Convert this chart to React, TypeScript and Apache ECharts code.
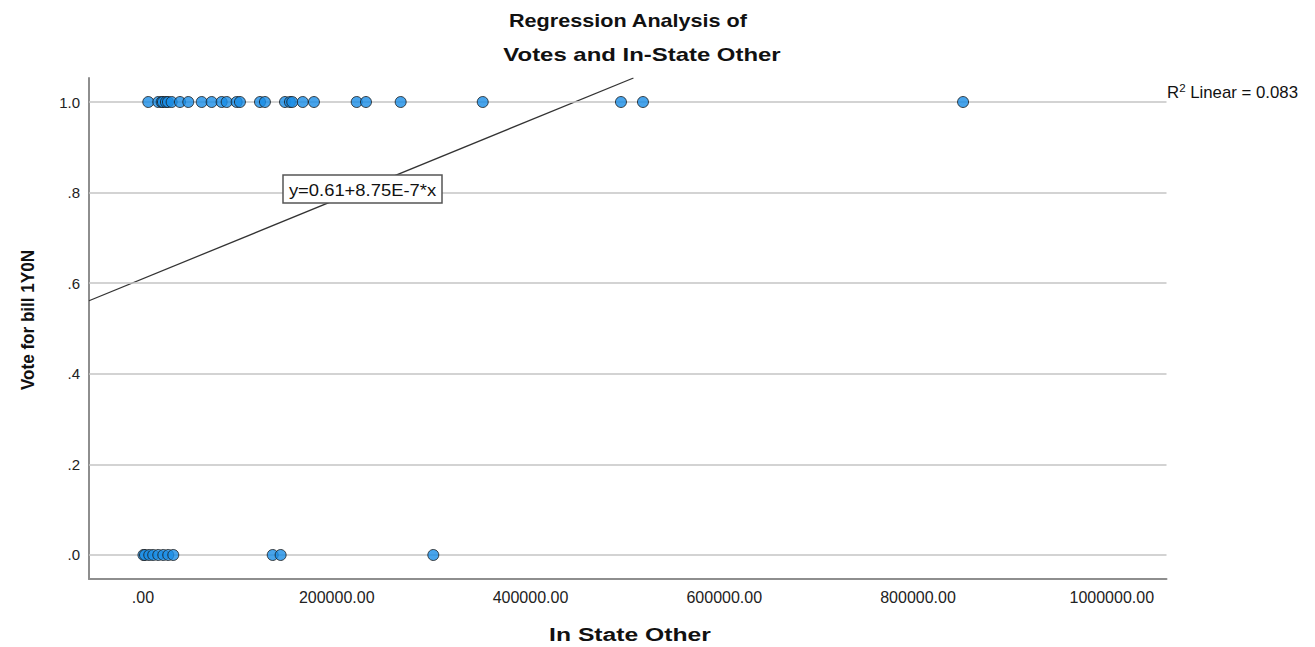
import React, { useEffect, useRef } from "react";
import * as echarts from "echarts";

// Vote = 1 (yes)
const yesInStateOther = [
  5500, 15800, 19300, 20600, 23700, 25800, 29600, 38200, 46800, 60600, 70900,
  81200, 86400, 96700, 100100, 120800, 125900, 146600, 151700, 154100, 164900,
  176500, 220600, 230200, 266000, 350700, 493400, 516100, 846500,
];
// Vote = 0 (no)
const noInStateOther = [
  500, 2100, 6500, 10600, 15800, 21000, 26100, 31300, 133900, 142100, 299700,
];
const intercept = 0.61;
const slope = 8.75e-7;
const xTicks = [0, 200000, 400000, 600000, 800000, 1000000];
const yTicks = [0, 0.2, 0.4, 0.6, 0.8, 1.0];
const X_MIN = -55700;
const X_MAX = 1056500;
const Y_MIN = -0.053;
const Y_MAX = 1.053;

export default function App() {
  const ref = useRef<HTMLDivElement>(null);
  useEffect(() => {
    if (!ref.current) return;
    const chart = echarts.init(ref.current, undefined, { renderer: "svg" });
    const font = "'Liberation Sans', Arial, sans-serif";
    const lineEndX = (Y_MAX - intercept) / slope;
    const lineData = [
      [X_MIN, intercept + slope * X_MIN],
      [lineEndX, intercept + slope * lineEndX],
    ];
    const markerStyle = { color: "#1A8DE6", borderColor: "#1a1a1a", borderWidth: 1 };
    const centered = (extra: any) => ({
      textAlign: "center",
      textVerticalAlign: "middle",
      align: "center",
      verticalAlign: "middle",
      ...extra,
    });
    chart.setOption({
      animation: false,
      backgroundColor: "#ffffff",
      grid: { left: 89, right: 148.5, top: 78, bottom: 68 },
      xAxis: {
        type: "value",
        min: X_MIN,
        max: X_MAX,
        axisLine: { show: true, onZero: false, lineStyle: { color: "#8e8e8e", width: 2 } },
        axisTick: { show: false, customValues: xTicks },
        axisLabel: {
          customValues: xTicks,
          formatter: (v: number) => v.toFixed(2).replace(/^0\./, "."),
          fontFamily: font,
          fontSize: 16,
          color: "#222",
          margin: 10,
        },
        splitLine: { show: false },
      },
      yAxis: {
        type: "value",
        min: Y_MIN,
        max: Y_MAX,
        axisLine: { show: true, onZero: false, lineStyle: { color: "#8e8e8e", width: 2 } },
        axisTick: { show: false, customValues: yTicks },
        axisLabel: {
          customValues: yTicks,
          formatter: (v: number) => v.toFixed(1).replace(/^0\./, "."),
          fontFamily: font,
          fontSize: 15,
          color: "#222",
          margin: 9,
        },
        splitLine: { show: false },
      },
      series: [
        {
          type: "line",
          data: [],
          silent: true,
          markLine: {
            silent: true,
            symbol: "none",
            label: { show: false },
            lineStyle: { color: "#c4c4c4", type: "solid", width: 1.5 },
            data: yTicks.map((v) => ({ yAxis: v })),
          },
        },
        {
          type: "line",
          data: lineData,
          showSymbol: false,
          symbol: "none",
          lineStyle: { color: "#333", width: 1.3 },
          z: 3,
        },
        {
          type: "scatter",
          data: noInStateOther.map((x) => [x, 0]),
          symbolSize: 11,
          itemStyle: markerStyle,
          z: 5,
        },
        {
          type: "scatter",
          data: yesInStateOther.map((x) => [x, 1]),
          symbolSize: 11,
          itemStyle: markerStyle,
          z: 5,
        },
      ],
      graphic: [
        {
          type: "text",
          x: 628,
          y: 21,
          scaleX: 1.2,
          style: centered({ text: "Regression Analysis of", font: `bold 18px ${font}`, fill: "#111" }),
        },
        {
          type: "text",
          x: 642,
          y: 55,
          scaleX: 1.33,
          style: centered({ text: "Votes and In-State Other", font: `bold 18px ${font}`, fill: "#111" }),
        },
        {
          type: "text",
          x: 630,
          y: 635,
          scaleX: 1.3,
          style: centered({ text: "In State Other", font: `bold 19px ${font}`, fill: "#111" }),
        },
        {
          type: "text",
          x: 28,
          y: 320,
          rotation: Math.PI / 2,
          scaleX: 0.9,
          style: centered({ text: "Vote for bill 1Y0N", font: `bold 19px ${font}`, fill: "#111" }),
        },
        {
          type: "group",
          x: 283,
          y: 175,
          z: 100,
          children: [
            {
              type: "rect",
              z: 100,
              shape: { x: 0, y: 0, width: 159, height: 28 },
              style: { fill: "#fff", stroke: "#555", lineWidth: 1.5 },
            },
            {
              type: "text",
              z: 101,
              x: 79.5,
              y: 15.5,
              scaleX: 1.15,
              style: centered({ text: "y=0.61+8.75E-7*x", font: `16px ${font}`, fill: "#111" }),
            },
          ],
        },
        {
          type: "text",
          x: 1167,
          y: 83,
          scaleX: 1.05,
          style: {
            rich: {
              sup: { fontSize: 11, fontFamily: font, fill: "#111", padding: [0, 0, 8, 0] },
              n: { fontSize: 16, fontFamily: font, fill: "#111" },
            },
            text: "{n|R}{sup|2}{n| Linear = 0.083}",
          },
        },
      ],
    });
    return () => chart.dispose();
  }, []);
  return (
    <div
      ref={ref}
      style={{ position: "fixed", left: 0, top: 0, width: 1315, height: 647 }}
    />
  );
}
